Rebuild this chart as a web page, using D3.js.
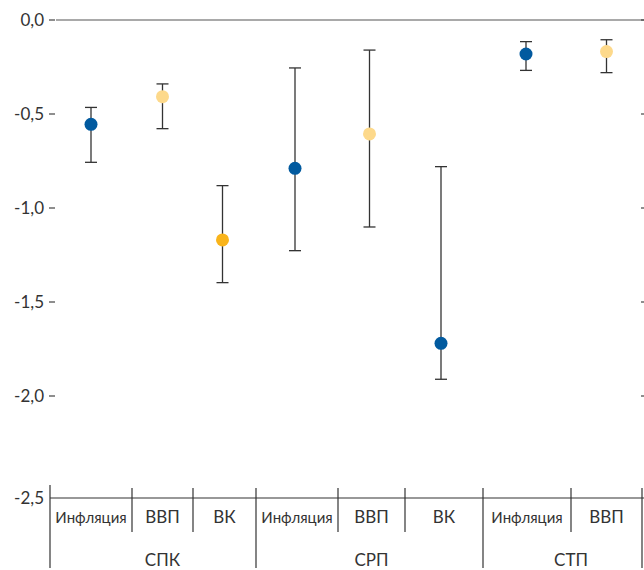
<!DOCTYPE html>
<html>
<head>
<meta charset="utf-8">
<script src="https://cdn.jsdelivr.net/npm/d3@7"></script>
<style>
  body { margin: 0; background: #fff; }
  svg { display: block; font-family: Lato, "Noto Sans", sans-serif; font-weight: 400; }
  text { fill: #333; }
</style>
</head>
<body>
<div id="chart"></div>
<script>
// data
const groups = ["СПК", "СРП", "СТП"];
const groupOf = ["СПК", "СПК", "СПК", "СРП", "СРП", "СРП", "СТП", "СТП"];
const categories = ["Инфляция", "ВВП", "ВК", "Инфляция", "ВВП", "ВК", "Инфляция", "ВВП"];
const values = [-0.555, -0.408, -1.17, -0.789, -0.606, -1.72, -0.181, -0.168];
const upper = [-0.465, -0.34, -0.881, -0.255, -0.16, -0.78, -0.115, -0.105];
const lower = [-0.757, -0.578, -1.397, -1.227, -1.101, -1.911, -0.268, -0.28];
const kinds = ["blue", "yellow", "orange", "blue", "yellow", "blue", "blue", "yellow"];
const yTicks = [0, -0.5, -1, -1.5, -2, -2.5];

// layout
const W = 644, H = 570;
const colors = { blue: "#015a9f", yellow: "#fdd98b", orange: "#f9b41b" };
const catEdges = [50, 132, 193, 252, 338, 401, 481, 571, 642]; // point slot edges
const sepEdges = [50, 132, 193, 256, 338, 405, 483, 571, 642]; // axis slot edges
const groupSpans = [[0, 3], [3, 6], [6, 8]];

const svg = d3.select("#chart").append("svg").attr("width", W).attr("height", H);

const y = d3.scaleLinear().domain([0, -2, -2.5]).range([20, 396, 498]);
const x = d3.scaleLinear().domain(d3.range(catEdges.length)).range(catEdges);
const xs = d3.scaleLinear().domain(d3.range(sepEdges.length)).range(sepEdges);
const fmt = v => d3.format(".1f")(v).replace(".", ",").replace("−", "-");

// top zero line
svg.append("line")
  .attr("x1", 56).attr("x2", W).attr("y1", y(0)).attr("y2", y(0))
  .attr("stroke", "#555").attr("stroke-width", 1.2);

// y labels and left dashes
svg.selectAll("text.ylab").data(yTicks).join("text")
  .attr("class", "ylab")
  .attr("x", 44).attr("y", d => y(d)).attr("dy", "0.35em")
  .attr("text-anchor", "end").attr("font-size", 17)
  .text(fmt);
svg.selectAll("line.ldash").data(yTicks.filter(d => d > -2.5)).join("line")
  .attr("class", "ldash")
  .attr("x1", 49).attr("x2", 55).attr("y1", d => y(d)).attr("y2", d => y(d))
  .attr("stroke", "#444").attr("stroke-width", 1.2);
// right small ticks
svg.selectAll("line.rdash").data(yTicks.filter(d => d > -2.5)).join("line")
  .attr("class", "rdash")
  .attr("x1", W - 3).attr("x2", W).attr("y1", d => y(d)).attr("y2", d => y(d))
  .attr("stroke", "#444").attr("stroke-width", 1.2);

// category axis
const axY = y(-2.5);
svg.append("line")
  .attr("x1", 50).attr("x2", W).attr("y1", axY).attr("y2", axY)
  .attr("stroke", "#333").attr("stroke-width", 1.2);

const groupEdges = [0, 3, 6, 8];
svg.selectAll("line.gsep").data(groupEdges).join("line")
  .attr("class", "gsep")
  .attr("x1", d => xs(d)).attr("x2", d => xs(d))
  .attr("y1", (d, i) => i === 0 ? axY - 13 : axY - 10).attr("y2", H - 2)
  .attr("stroke", "#333").attr("stroke-width", 1.2);

const subEdges = [1, 2, 4, 5, 7];
svg.selectAll("line.csep").data(subEdges).join("line")
  .attr("class", "csep")
  .attr("x1", d => xs(d)).attr("x2", d => xs(d))
  .attr("y1", axY - 10).attr("y2", axY + 34)
  .attr("stroke", "#333").attr("stroke-width", 1.2);

svg.selectAll("text.cat").data(categories).join("text")
  .attr("class", "cat")
  .attr("x", (d, i) => xs(i + 0.5)).attr("y", axY + 25)
  .attr("text-anchor", "middle")
  .attr("font-size", d => d === "Инфляция" ? 15 : 17)
  .text(d => d);

svg.selectAll("text.grp").data(groups).join("text")
  .attr("class", "grp")
  .attr("x", (d, i) => xs((groupSpans[i][0] + groupSpans[i][1]) / 2)).attr("y", axY + 68)
  .attr("text-anchor", "middle").attr("font-size", 17)
  .text(d => d);

// error bars
const pts = values.map((v, i) => ({ i, v, hi: upper[i], lo: lower[i], c: colors[kinds[i]] }));
const eb = svg.append("g").attr("stroke", "#333").attr("stroke-width", 1.3);
eb.selectAll("line.v").data(pts).join("line")
  .attr("x1", d => x(d.i + 0.5)).attr("x2", d => x(d.i + 0.5))
  .attr("y1", d => y(d.hi)).attr("y2", d => y(d.lo));
eb.selectAll("line.t").data(pts).join("line")
  .attr("x1", d => x(d.i + 0.5) - 6).attr("x2", d => x(d.i + 0.5) + 6)
  .attr("y1", d => y(d.hi)).attr("y2", d => y(d.hi));
eb.selectAll("line.b").data(pts).join("line")
  .attr("x1", d => x(d.i + 0.5) - 6).attr("x2", d => x(d.i + 0.5) + 6)
  .attr("y1", d => y(d.lo)).attr("y2", d => y(d.lo));

// points
svg.selectAll("circle.pt").data(pts).join("circle")
  .attr("class", "pt")
  .attr("cx", d => x(d.i + 0.5)).attr("cy", d => y(d.v))
  .attr("r", 6.5).attr("fill", d => d.c);
</script>
</body>
</html>
